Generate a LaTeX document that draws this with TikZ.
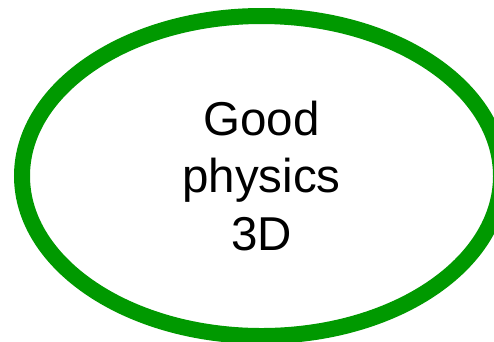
\documentclass[tikz,border=0pt]{standalone}
\usepackage{fontspec}
\setmainfont{Liberation Sans}
\usetikzlibrary{shapes.geometric}
\definecolor{ringgreen}{HTML}{009900}
\tikzset{
  ring/.style={ellipse, draw=ringgreen, line width=16pt, fill=white,
    minimum width=479pt, minimum height=320pt, inner sep=0pt,
    align=center, font={\fontsize{47.5}{57.5}\selectfont}}
}
\begin{document}
\begin{tikzpicture}[x=1pt,y=-1pt]
\useasboundingbox[fill=white] (0,0) rectangle (494,341);
\node[ring] (good) at (261.5,176) {Good\\physics\\3D};
\end{tikzpicture}
\end{document}
